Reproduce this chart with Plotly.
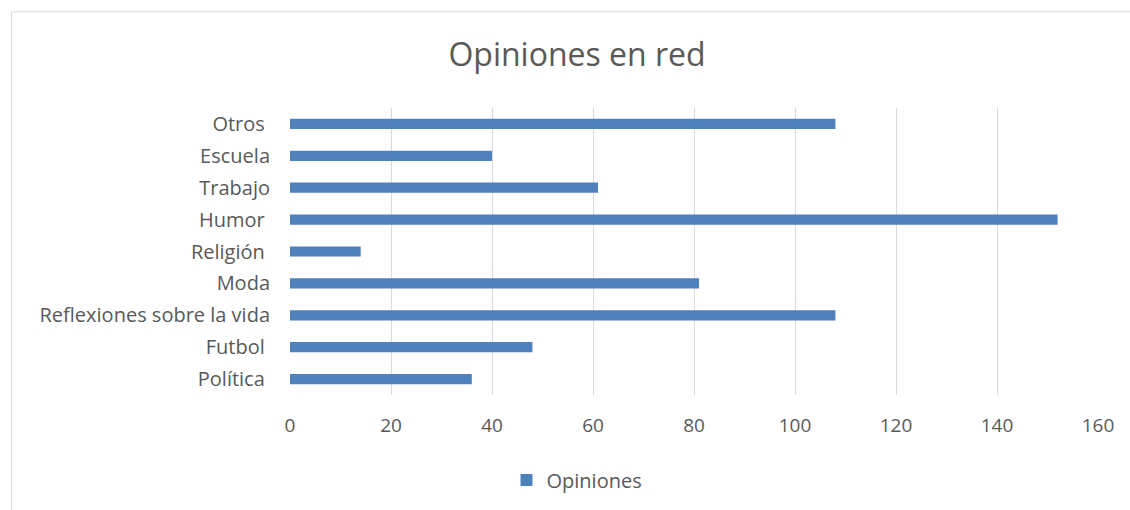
import plotly.graph_objects as go

categories = ["Política ", "Futbol ", "Reflexiones sobre la vida", "Moda", "Religión ",
              "Humor ", "Trabajo", "Escuela", "Otros "]
opiniones = [36, 48, 108, 81, 14, 152, 61, 40, 108]
x_ticks = [0, 20, 40, 60, 80, 100, 120, 140, 160]

W, H = 1130, 510
L, R, T, B = 290, 32, 108, 114
pw, ph = W - L - R, H - T - B

def px(xp):
    return (xp - L) / pw

def py(yp):
    return (H - B - yp) / ph

fig = go.Figure()
fig.add_trace(go.Bar(
    y=categories, x=opiniones, orientation="h", name="Opiniones",
    marker=dict(color="#4F81BD", line=dict(width=0)),
    showlegend=True,
))

font_family = "Open Sans, Liberation Sans, sans-serif"
fig.update_layout(
    width=W, height=H,
    margin=dict(l=L, r=R, t=T, b=B),
    paper_bgcolor="white", plot_bgcolor="white",
    bargap=0.68,
    font=dict(family=font_family, color="#595959", size=19),
    title=dict(text="Opiniones en red", x=577 / W, xanchor="center",
               y=1 - 55 / H, yanchor="middle", yref="container",
               font=dict(size=32, color="#595959", family=font_family)),
    xaxis=dict(range=[0, 160], tickvals=x_ticks, showgrid=True, gridcolor="#D9D9D9",
               gridwidth=1, zeroline=False, showline=False, ticks="",
               ticklabelstandoff=17, tickfont=dict(size=19, color="#595959"),
               fixedrange=True),
    yaxis=dict(categoryorder="array", categoryarray=categories, showgrid=False,
               zeroline=False, showline=False, ticks="", ticklabelstandoff=19,
               tickfont=dict(size=20, color="#595959"), fixedrange=True),
    legend=dict(orientation="h", x=px(577), xanchor="center", y=py(480),
                yanchor="middle", font=dict(size=20, color="#595959"),
                itemwidth=30),
    shapes=[dict(type="rect", xref="paper", yref="paper",
                 x0=px(11.5), x1=px(1140), y0=py(520), y1=py(11.5),
                 line=dict(color="#D9D9D9", width=1), fillcolor="rgba(0,0,0,0)",
                 layer="below")],
)

fig.write_html("out.html")
